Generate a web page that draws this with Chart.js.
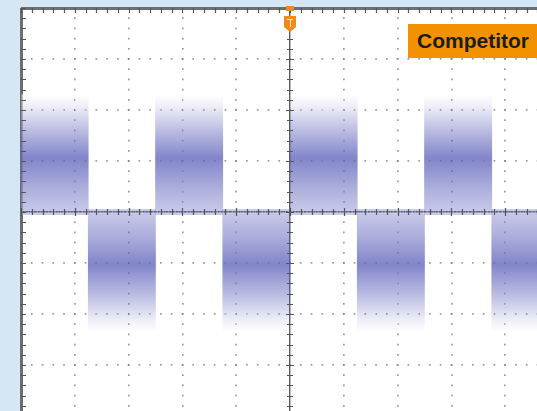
<!DOCTYPE html>
<html>
<head>
<meta charset="utf-8">
<script src="https://cdn.jsdelivr.net/npm/chart.js@4.4.1/dist/chart.umd.min.js"></script>
<style>
  html, body { margin: 0; padding: 0; width: 537px; height: 411px; overflow: hidden; background: #d5e6f4; }
  #scope { position: absolute; left: 0; top: 0; }
  #tag {
    position: absolute; left: 408px; top: 24px; width: 140px; height: 34px;
    background: #f39200; color: #1c1c1c; box-sizing: border-box; padding-left: 9px;
    font: bold 21px "Liberation Sans", Arial, sans-serif; line-height: 34px;
  }
</style>
</head>
<body>
<canvas id="scope" width="560" height="420"></canvas>
<div id="tag">Competitor</div>
<script>
// one screen = 10 x 8 divisions, trace is a noisy square wave (half period 1.25 div)
const segments = ["s1", "s2", "s3", "s4", "s5", "s6", "s7", "s8"];
const bandTop = [2.3, 0.05, 2.3, 0.05, 2.3, 0.05, 2.3, 0.05];
const bandBottom = [-0.05, -2.35, -0.05, -2.35, -0.05, -2.35, -0.05, -2.35];
const bandCore = [1.06, -0.98, 1.06, -0.98, 1.06, -0.98, 1.06, -0.98];

const traceRGB = "82, 86, 182";
const highStops = [[0, 0], [0.1, 0.1], [0.25, 0.32], [0.53, 0.72], [0.8, 0.46], [1, 0.3]];
const lowStops = [[0, 0.3], [0.2, 0.46], [0.45, 0.72], [0.75, 0.32], [0.9, 0.1], [1, 0]];
// white streak strengths for the noise texture, one per pixel column
const streaks = [0.4, 0, 0.15, 0.5, 0.05, 0, 0.3, 0.55, 0, 0.2, 0.45, 0.05, 0.15, 0.35, 0];

const bandFill = (ctx) => {
  const chart = ctx.chart;
  const i = ctx.dataIndex;
  if (!chart.chartArea || i === undefined) return `rgba(${traceRGB}, 0.4)`;
  const y = chart.scales.y;
  const top = y.getPixelForValue(bandTop[i]);
  const bottom = y.getPixelForValue(bandBottom[i]);
  const g = chart.ctx.createLinearGradient(0, top, 0, bottom);
  const stops = bandCore[i] > 0 ? highStops : lowStops;
  stops.forEach(([p, a]) => g.addColorStop(p, `rgba(${traceRGB}, ${a})`));
  return g;
};

let streakPattern = null;
const noiseFill = (ctx) => {
  if (!streakPattern) {
    const c = document.createElement("canvas");
    c.width = streaks.length;
    c.height = 1;
    const pc = c.getContext("2d");
    streaks.forEach((a, k) => {
      pc.fillStyle = `rgba(255, 255, 255, ${a})`;
      pc.fillRect(k, 0, 1, 1);
    });
    streakPattern = ctx.chart.ctx.createPattern(c, "repeat");
  }
  return streakPattern;
};

const tickValue = (ctx) => (ctx.type === "tick" && ctx.tick ? ctx.tick.value : null);

const gridColor = (edge) => (ctx) => {
  const v = tickValue(ctx);
  if (v === edge) return "#6e6e6e";
  if (v === 0) return "#5a5a5a";
  return "rgba(105, 105, 105, 0.65)";
};
const gridWidth = (edge) => (ctx) => {
  const v = tickValue(ctx);
  if (v === edge) return 3;
  if (v === 0) return 1.4;
  return 1.7;
};
const gridDash = (edge, gap) => (ctx) => {
  const v = tickValue(ctx);
  if (v === null || v === edge || v === 0) return [];
  return [1.7, gap];
};

const scopeMarks = {
  id: "scopeMarks",
  beforeDraw(chart) {
    const { ctx, chartArea } = chart;
    ctx.save();
    ctx.fillStyle = "#ffffff";
    ctx.fillRect(chartArea.left, chartArea.top, chartArea.right - chartArea.left, chartArea.bottom - chartArea.top);
    ctx.restore();
  },
  afterDatasetsDraw(chart) {
    const { ctx, chartArea } = chart;
    const xs = chart.scales.xg;
    const ys = chart.scales.y;
    const cx = xs.getPixelForValue(0);
    const cy = ys.getPixelForValue(0);
    ctx.save();
    ctx.strokeStyle = "#555";
    ctx.lineWidth = 1.2;
    ctx.beginPath();
    for (let i = -25; i <= 25; i++) {
      const px = Math.round(xs.getPixelForValue(i / 5)) + 0.5;
      const len = i % 5 === 0 ? 4 : 3;
      ctx.moveTo(px, cy - len);
      ctx.lineTo(px, cy + len);
      // ticks hanging from the top frame
      ctx.moveTo(px, chartArea.top);
      ctx.lineTo(px, chartArea.top + 5);
    }
    for (let i = -20; i <= 20; i++) {
      const py = Math.round(ys.getPixelForValue(i / 5)) + 0.5;
      const len = i % 5 === 0 ? 4 : 3;
      ctx.moveTo(cx - len, py);
      ctx.lineTo(cx + len, py);
      ctx.moveTo(chartArea.left, py);
      ctx.lineTo(chartArea.left + 5, py);
    }
    ctx.stroke();

    // trigger position marker
    ctx.fillStyle = "#f08a1c";
    ctx.fillRect(cx - 4, chartArea.top - 2, 8, 5);
    ctx.beginPath();
    ctx.moveTo(cx - 6, 16);
    ctx.lineTo(cx + 6, 16);
    ctx.lineTo(cx + 6, 27);
    ctx.lineTo(cx, 32);
    ctx.lineTo(cx - 6, 27);
    ctx.closePath();
    ctx.fill();
    ctx.strokeStyle = "rgba(255,255,255,0.8)";
    ctx.lineWidth = 1;
    ctx.beginPath();
    ctx.moveTo(cx - 3, 19.5);
    ctx.lineTo(cx + 3, 19.5);
    ctx.moveTo(cx + 0.5, 19.5);
    ctx.lineTo(cx + 0.5, 27);
    ctx.stroke();
    ctx.restore();
  },
};

const bandRanges = segments.map((_, i) => [bandBottom[i], bandTop[i]]);

new Chart(document.getElementById("scope"), {
  type: "bar",
  data: {
    labels: segments,
    datasets: [
      {
        data: bandRanges,
        backgroundColor: bandFill,
        borderWidth: 0,
        barPercentage: 1,
        categoryPercentage: 1,
        grouped: false,
      },
      {
        data: bandRanges,
        backgroundColor: noiseFill,
        borderWidth: 0,
        barPercentage: 1,
        categoryPercentage: 1,
        grouped: false,
      },
    ],
  },
  options: {
    responsive: false,
    animation: false,
    layout: { padding: { left: 21, top: 8, right: 1, bottom: 4 } },
    plugins: { legend: { display: false }, tooltip: { enabled: false } },
    scales: {
      x: { type: "category", display: false },
      xg: {
        type: "linear",
        axis: "x",
        position: "bottom",
        offset: false,
        min: -5,
        max: 5,
        ticks: { stepSize: 1, display: false },
        grid: { offset: false, drawTicks: false, color: gridColor(-5), lineWidth: gridWidth(-5) },
        border: { display: false, dash: gridDash(-5, 8.5), dashOffset: 0.85 },
      },
      y: {
        min: -4,
        max: 4,
        ticks: { stepSize: 1, display: false },
        grid: { drawTicks: false, color: gridColor(4), lineWidth: gridWidth(4) },
        border: { display: false, dash: gridDash(4, 9.06), dashOffset: 0.85 },
      },
    },
  },
  plugins: [scopeMarks],
});
</script>
</body>
</html>
